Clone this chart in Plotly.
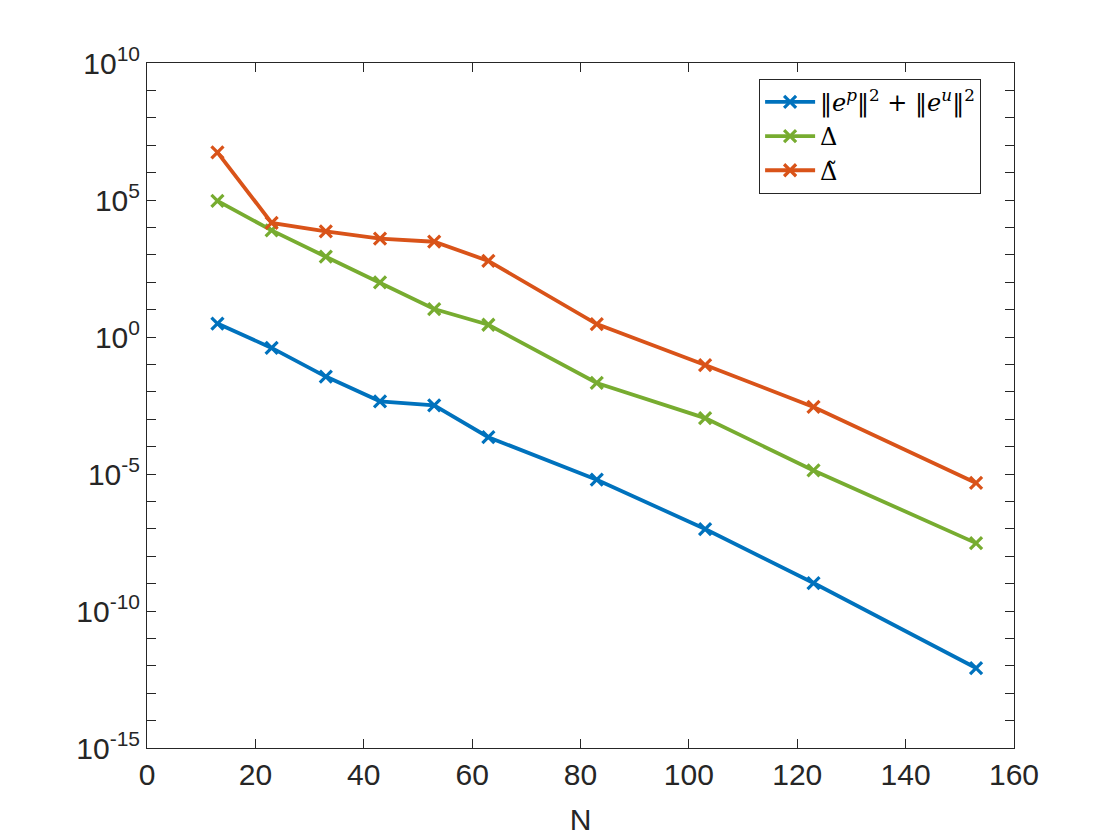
import plotly.graph_objects as go

# data (N vs error quantities, log scale)
N = [13, 23, 33, 43, 53, 63, 83, 103, 123, 153]
err_pu = [3.1, 0.40, 0.036, 0.0045, 0.0032, 2.2e-4, 6.2e-6, 9.8e-8, 1.05e-9, 8.3e-13]
delta = [9.3e4, 7.8e3, 850, 98, 10.5, 2.8, 0.021, 0.0011, 1.35e-5, 3.0e-8]
delta_tilde = [5.5e6, 1.45e4, 7.1e3, 3.9e3, 3.0e3, 600, 2.95, 0.095, 0.0028, 4.7e-6]

series = [
    ("\u2016<i>e<sup>p</sup></i>\u2016<sup>2</sup> + \u2016<i>e<sup>u</sup></i>\u2016<sup>2</sup>", err_pu, "#0072BD"),
    ("\u0394", delta, "#77AC30"),
    ("\u0394\u0303", delta_tilde, "#D95319"),
]

fig = go.Figure()
for name, vals, col in series:
    fig.add_trace(go.Scatter(
        x=N, y=vals, name=name, mode="lines+markers",
        line=dict(color=col, width=3.8),
        marker=dict(symbol="x-thin", size=12, line=dict(color=col, width=3.2)),
    ))

# labelled ticks every 5 decades, unlabelled ticks every decade
major_exp = [-15, -10, -5, 0, 5, 10]
ytickvals = [10.0 ** k for k in major_exp]
yticktext = ["10<sup>%d</sup>" % k for k in major_exp]
minor_vals = [10.0 ** k for k in range(-15, 11)]

axis_col = "#262626"
fig.update_layout(
    width=1120, height=840,
    paper_bgcolor="white", plot_bgcolor="white",
    margin=dict(l=139, r=114, t=55, b=100),
    font=dict(family="Liberation Sans, Arial, sans-serif", color=axis_col, size=30),
    xaxis=dict(
        range=[0, 160], tickvals=[0, 20, 40, 60, 80, 100, 120, 140, 160],
        showline=True, linecolor=axis_col, linewidth=1, mirror="ticks",
        ticks="inside", ticklen=9, tickcolor=axis_col, showgrid=False, zeroline=False,
        title=dict(text="N", font=dict(size=30), standoff=18),
    ),
    yaxis=dict(
        type="log", range=[-15, 10], tickvals=ytickvals, ticktext=yticktext,
        showline=True, linecolor=axis_col, linewidth=1, mirror="ticks",
        ticks="inside", ticklen=9, tickcolor=axis_col, showgrid=False, zeroline=False,
        minor=dict(tickvals=minor_vals, ticks="inside", ticklen=9,
                   tickcolor=axis_col, showgrid=False),
    ),
    legend=dict(
        x=0.706, y=0.977, xanchor="left", yanchor="top",
        bordercolor=axis_col, borderwidth=1, bgcolor="white",
        font=dict(family="DejaVu Serif, Liberation Serif, serif", size=24, color="black"),
        tracegroupgap=0, itemwidth=50,
    ),
)

fig.write_html("out.html")
